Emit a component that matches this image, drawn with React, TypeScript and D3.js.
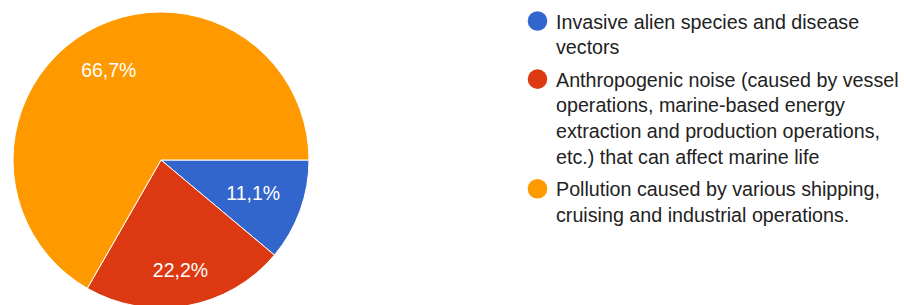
import React from "react";
import * as d3 from "d3";

const categories = [
  "Invasive alien species and disease vectors",
  "Anthropogenic noise (caused by vessel operations, marine-based energy extraction and production operations, etc.) that can affect marine life",
  "Pollution caused by various shipping, cruising and industrial operations.",
];
const values = [11.1, 22.2, 66.7];
const sliceLabels = ["11,1%", "22,2%", "66,7%"];
const legendLines = [
  ["Invasive alien species and disease", "vectors"],
  [
    "Anthropogenic noise (caused by vessel",
    "operations, marine-based energy",
    "extraction and production operations,",
    "etc.) that can affect marine life",
  ],
  ["Pollution caused by various shipping,", "cruising and industrial operations."],
];
const colors = ["#3366cc", "#dc3912", "#ff9900"];

const FONT = "Arial, 'Liberation Sans', sans-serif";

function measure(text: string, size: number): number {
  if (typeof document === "undefined") return text.length * size * 0.55;
  const c = document.createElement("canvas");
  const ctx = c.getContext("2d");
  if (!ctx) return text.length * size * 0.55;
  ctx.font = `${size}px ${FONT}`;
  return ctx.measureText(text).width;
}

export default function App() {
  const W = 905;
  const H = 305;
  const cx = 161;
  const cy = 160;
  const r = 148;
  const labelSize = 19.5;
  const legendSize = 19.7;
  const pie = d3
    .pie<number>()
    .sort(null)
    .value((d) => d)
    .startAngle(Math.PI / 2)
    .endAngle(Math.PI / 2 + 2 * Math.PI);
  const arcs = pie(values);
  const arc = d3.arc<d3.PieArcDatum<number>>().innerRadius(0).outerRadius(r);

  // place each label so the far corner of its box lies at radius R
  const R = r * 0.85;
  const capH = labelSize * 0.716;
  const labelPos = arcs.map((a, i) => {
    const mid = (a.startAngle + a.endAngle) / 2;
    const ux = Math.sin(mid);
    const uy = -Math.cos(mid);
    const w = measure(sliceLabels[i], labelSize);
    const h = capH;
    const b = (Math.abs(ux) * w) / 2 + (Math.abs(uy) * h) / 2;
    const c = (w * w + h * h) / 4 - R * R;
    const d = -b + Math.sqrt(b * b - c);
    return [d * ux, d * uy];
  });

  const lineH = 25.8;
  const groupGap = 6.5;
  let y = 28.5;
  const legendItems = legendLines.map((lines, i) => {
    const startY = y;
    y += lines.length * lineH + groupGap;
    return { lines, startY, color: colors[i], name: categories[i] };
  });

  return (
    <svg
      width={W}
      height={H}
      style={{ position: "absolute", left: 0, top: 0, background: "#fff" }}
      fontFamily={FONT}
    >
      <g transform={`translate(${cx},${cy})`}>
        {arcs.map((a, i) => (
          <path key={i} d={arc(a) || ""} fill={colors[i]} stroke="#fff" strokeWidth={1} />
        ))}
        {arcs.map((a, i) => {
          const [lx, ly] = labelPos[i];
          return (
            <text
              key={i}
              x={lx}
              y={ly + capH / 2}
              textAnchor="middle"
              fill="#fff"
              fontSize={labelSize}
            >
              {sliceLabels[i]}
            </text>
          );
        })}
      </g>
      <g>
        {legendItems.map((it, i) => (
          <g key={i}>
            <circle cx={537.5} cy={it.startY - 7.5} r={9.8} fill={it.color} />
            {it.lines.map((ln, j) => (
              <text key={j} x={556} y={it.startY + j * lineH} fontSize={legendSize} fill="#222222">
                {ln}
              </text>
            ))}
          </g>
        ))}
      </g>
    </svg>
  );
}
